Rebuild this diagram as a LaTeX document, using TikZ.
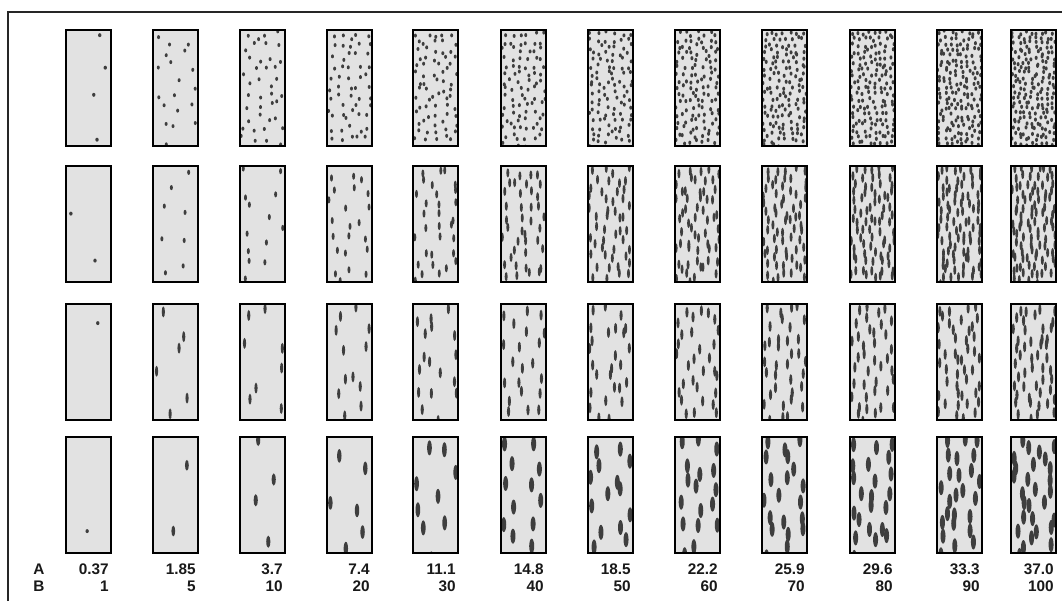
\documentclass[tikz,border=0pt]{standalone}
\usepackage{fontspec}
\setmainfont{Liberation Sans}
\definecolor{cellfill}{HTML}{E2E2E2}
\definecolor{dotc}{HTML}{3E3E3E}
\begin{document}
\begin{tikzpicture}[x=0.75pt,y=-0.75pt,
  cellbox/.style={draw=black,line width=1.9pt},
  framestyle/.style={draw=black!85,line width=1.4pt},
  lab/.style={font=\bfseries\fontsize{11.5}{13}\selectfont,inner sep=0pt,text=black!90}]
\pgfmathsetseed{4711}
\useasboundingbox (0,0) rectangle (1062,601);
\fill[white] (0,0) rectangle (1062,601);
\coordinate (fbl) at (8,601);
\coordinate (ftl) at (8,12);
\coordinate (ftr) at (1062,12);
\draw[framestyle] (fbl) -- (ftl) -- (ftr);
\foreach \c/\xl/\aa/\bb in {1/66/0.37/1,2/153/1.85/5,3/240/3.7/10,4/327/7.4/20,5/413/11.1/30,6/501/14.8/40,7/588/18.5/50,8/675/22.2/60,9/762/25.9/70,10/850/29.6/80,11/937/33.3/90,12/1011/37.0/100}{
  \foreach \r/\yt in {1/30,2/166,3/304,4/437}{
    \pgfmathtruncatemacro\N{(\r==1)*((\bb<=10)*4*\bb+(\bb>10)*(40+1.6*(\bb-10)))
       +(\r==2)*((\bb==1)*2+(\bb>1)*round(0.9*\bb+4))
       +(\r==3)*((\bb==1)*1+(\bb>1)*round(0.45*\bb+3.5))
       +(\r==4)*max(1,round(0.27*\bb+0.8))}
    \pgfmathsetmacro\prx{(\c==1)*1.7+(\c>1)*((\r==1)*1.5+(\r==2)*1.5+(\r==3)*1.6+(\r==4)*min(2.5,1.6+0.15*\c))}
    \pgfmathsetmacro\pry{(\c==1)*2.0+(\c>1)*((\r==1)*((\c>7)*2.1+(\c<=7)*2.0)+(\r==2)*min(4.8,1.6+0.5*\c)+(\r==3)*5.5+(\r==4)*min(7.5,4+0.7*\c))}
    \pgfmathtruncatemacro\nc{max(1,round(sqrt(\N*45/116)))}
    \pgfmathsetmacro\R{\N/\nc}
    \pgfmathtruncatemacro\nlast{\N-1}
    \fill[cellfill] (\xl,\yt) rectangle ++(45,116);
    \begin{scope}
      \clip (\xl,\yt) rectangle ++(45,116);
      \foreach \k in {0,...,\nlast}{
        \pgfmathsetmacro\px{\xl+(mod(\k,\nc)+0.1+0.8*rnd)/\nc*45}
        \pgfmathsetmacro\py{\yt+(floor(\k/\nc)+0.1+0.8*rnd)/\R*116}
        \fill[dotc] (\px,\py) ellipse [x radius=\prx*0.75pt, y radius=\pry*0.75pt];
      }
    \end{scope}
    \draw[cellbox] (\xl,\yt) rectangle ++(45,116);
  }
  \pgfmathsetmacro\xr{\xl+43}
  \node[lab,anchor=east] (a\c) at (\xr,569) {\aa};
  \node[lab,anchor=east] (b\c) at (\xr,586) {\bb};
}
\node[lab,anchor=west] (la) at (33,569) {A};
\node[lab,anchor=west] (lb) at (33,586) {B};
\end{tikzpicture}
\end{document}
